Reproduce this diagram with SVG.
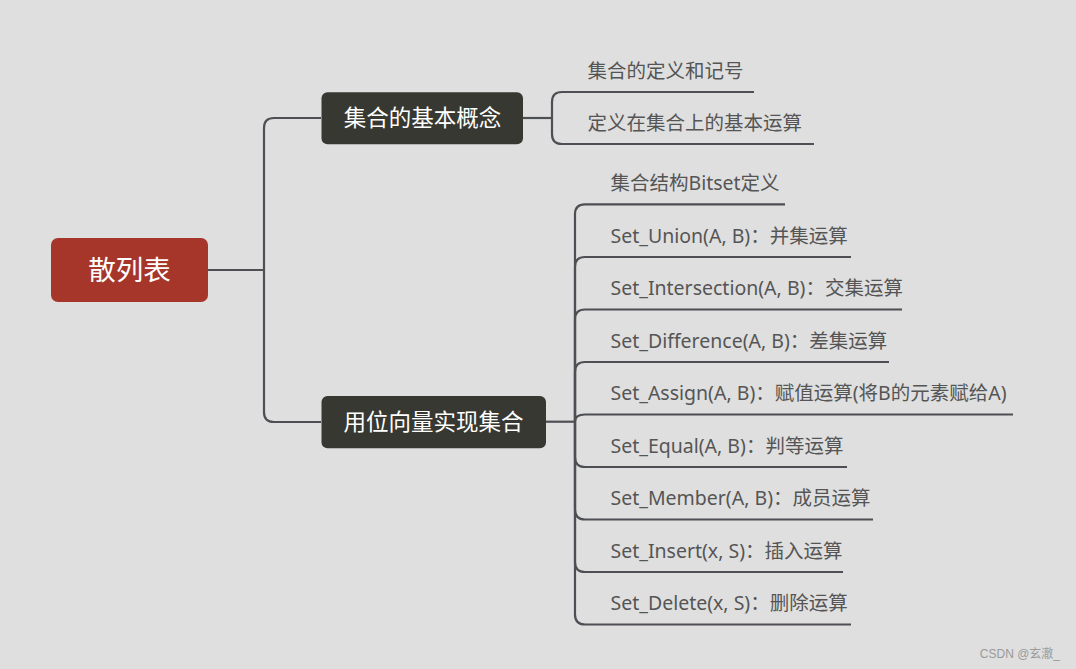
<svg xmlns="http://www.w3.org/2000/svg" width="1076" height="669" viewBox="0 0 1076 669">
<style>
.bg{fill:#dfdfdf}
.root{fill:#a6352a}
.main{fill:#383832}
.conn{fill:none;stroke:#4e4f54;stroke-width:2.2;stroke-linecap:butt}
.nt{font-family:"Noto Sans","Noto Sans CJK SC",sans-serif;fill:#ffffff;text-anchor:middle}
.lt{font-family:"Noto Sans","Noto Sans CJK SC",sans-serif;fill:#555555;font-size:19.5px}
.wm{font-family:"Liberation Sans","Noto Sans CJK SC",sans-serif;fill:#9a9a9a;font-size:12px;text-anchor:end}
</style>
<rect class="bg" x="0" y="0" width="1076" height="669"/>
<g id="connectors">
<path class="conn" d="M208,270 L264,270"/>
<path class="conn" d="M264,270 L264,128 Q264,118 274,118 L321,118"/>
<path class="conn" d="M264,270 L264,412 Q264,422 274,422 L321,422"/>
<path class="conn" d="M523,118 L552,118"/>
<path class="conn" d="M552,118 L552,102 Q552,92 562,92 L754,92"/>
<path class="conn" d="M552,118 L552,134 Q552,144 562,144 L814,144"/>
<path class="conn" d="M546,421.7 L575,421.7"/>
<path class="conn" d="M575,421.7 L575,214.3 Q575,204.3 585,204.3 L785,204.3"/>
<path class="conn" d="M575,421.7 L575,267 Q575,257 585,257 L851,257"/>
<path class="conn" d="M575,421.7 L575,319.5 Q575,309.5 585,309.5 L902,309.5"/>
<path class="conn" d="M575,421.7 L575,372 Q575,362 585,362 L889,362"/>
<path class="conn" d="M575,421.7 Q575,414.5 585,414.5 L1013,414.5"/>
<path class="conn" d="M575,421.7 L575,457 Q575,467 585,467 L847,467"/>
<path class="conn" d="M575,421.7 L575,509.5 Q575,519.5 585,519.5 L873,519.5"/>
<path class="conn" d="M575,421.7 L575,562 Q575,572 585,572 L843,572"/>
<path class="conn" d="M575,421.7 L575,614.5 Q575,624.5 585,624.5 L851,624.5"/>
</g>
<g id="root">
<rect class="root" x="51" y="238" width="157" height="64" rx="7"/>
<text class="nt" x="129.5" y="280" font-size="27.5">散列表</text>
</g>
<g id="n1">
<rect class="main" x="321.5" y="92.3" width="201.5" height="52" rx="6"/>
<text class="nt" x="422.5" y="126" font-size="22.5">集合的基本概念</text>
</g>
<g id="n2">
<rect class="main" x="321.5" y="396" width="224.5" height="52.3" rx="6"/>
<text class="nt" x="433.5" y="430" font-size="22.5">用位向量实现集合</text>
</g>
<g id="n1-leaves">
<text class="lt" x="587.5" y="78">集合的定义和记号</text>
<text class="lt" x="587.5" y="130">定义在集合上的基本运算</text>
</g>
<g id="n2-leaves">
<text class="lt" x="610.5" y="190">集合结构Bitset定义</text>
<text class="lt" x="610.5" y="242.5">Set_Union(A, B)：并集运算</text>
<text class="lt" x="610.5" y="295">Set_Intersection(A, B)：交集运算</text>
<text class="lt" x="610.5" y="347.5">Set_Difference(A, B)：差集运算</text>
<text class="lt" x="610.5" y="400">Set_Assign(A, B)：赋值运算(将B的元素赋给A)</text>
<text class="lt" x="610.5" y="452.5">Set_Equal(A, B)：判等运算</text>
<text class="lt" x="610.5" y="505">Set_Member(A, B)：成员运算</text>
<text class="lt" x="610.5" y="557.5">Set_Insert(x, S)：插入运算</text>
<text class="lt" x="610.5" y="610">Set_Delete(x, S)：删除运算</text>
</g>
<text class="wm" x="1060" y="658">CSDN @玄澈_</text>
</svg>
